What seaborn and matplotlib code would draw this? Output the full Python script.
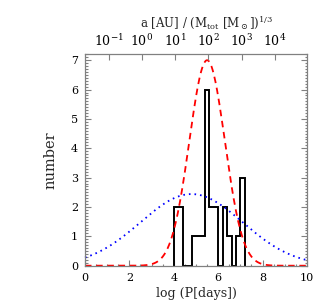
import numpy as np
import pandas as pd
import matplotlib
matplotlib.use("Agg")
import matplotlib.pyplot as plt
import seaborn as sns

# histogram of log P (bin width 0.2)
bin_edges = [4.0, 4.2, 4.4, 4.6, 4.8, 5.0, 5.2, 5.4, 5.6, 5.8, 6.0, 6.2, 6.4, 6.6, 6.8, 7.0, 7.2]
counts = [2, 2, 0, 0, 1, 1, 1, 6, 2, 2, 0, 2, 1, 0, 1, 3]

# gaussian curves drawn over the histogram (amplitude, mean, sigma)
red_gauss = [7.0, 5.5, 0.8]
blue_gauss = [2.44, 4.8, 2.3]

top_ticks = [1e-1, 1e0, 1e1, 1e2, 1e3, 1e4]


def gauss(x, amp, mu, sig):
    return amp * np.exp(-(x - mu) ** 2 / (2 * sig ** 2))


xgrid = np.linspace(0, 10, 401)
curves = pd.DataFrame({
    "logP": np.concatenate([xgrid, xgrid]),
    "number": np.concatenate([gauss(xgrid, *red_gauss), gauss(xgrid, *blue_gauss)]),
    "model": ["narrow"] * len(xgrid) + ["broad"] * len(xgrid),
})
centers = [(a + b) / 2 for a, b in zip(bin_edges[:-1], bin_edges[1:])]
hist_df = pd.DataFrame({"logP": centers, "n": counts})

sns.set_style("ticks")
plt.rcParams["font.family"] = ["DejaVu Serif"]
plt.rcParams["mathtext.fontset"] = "dejavuserif"

grey = "#808080"
fig = plt.figure(figsize=(3.32, 3.07), dpi=100)
ax = fig.add_axes([0.256, 0.1326, 0.6687, 0.6904])

sns.lineplot(data=curves[curves.model == "broad"], x="logP", y="number", ax=ax,
             color="#0000ff", lw=1.3, linestyle=(0, (0.9, 2.2)), clip_on=False)
sns.lineplot(data=curves[curves.model == "narrow"], x="logP", y="number", ax=ax,
             color="#ff0000", lw=1.3, linestyle=(0, (3.6, 2.6)), clip_on=False)
ax.stairs(hist_df["n"], bin_edges, baseline=0, color="black", lw=1.4)

ax.set_xlim(0, 10)
ax.set_ylim(-0.02, 7.2)
ax.set_xticks([0, 2, 4, 6, 8, 10])
ax.set_xticks(np.arange(0, 10.01, 0.5), minor=True)
ax.set_yticks(range(8))
ax.set_yticks(np.arange(0, 7.21, 0.1), minor=True)
ax.set_xlabel("log (P[days])", fontsize=9, labelpad=3)
ax.set_ylabel("number", fontsize=10.5, labelpad=10)
ax.tick_params(which="both", direction="in", colors=grey, labelcolor="black",
               labelsize=8, right=True, top=False, width=0.8)
ax.tick_params(which="major", length=4.5, pad=5)
ax.tick_params(which="minor", length=1.8)
for s in ax.spines.values():
    s.set_color(grey)
    s.set_linewidth(0.9)

# top axis: a / M^(1/3) in AU from Kepler's law
lo = 10 ** (2 / 3 * (0 - np.log10(365.25)))
hi = 10 ** (2 / 3 * (10 - np.log10(365.25)))
ax2 = ax.twiny()
ax2.set_xscale("log")
ax2.set_xlim(lo, hi)
ax2.set_xticks(top_ticks)
ax2.xaxis.set_minor_locator(matplotlib.ticker.NullLocator())
ax2.tick_params(direction="in", colors=grey, labelcolor="black", labelsize=9,
                length=4.5, width=0.8, pad=4)
for s in ax2.spines.values():
    s.set_visible(False)
ax2.set_xlabel(r"a [AU] / (M$_{\rm tot}$ [M$_\odot$])$^{1/3}$", fontsize=8.5)
ax2.xaxis.set_label_coords(0.55, 1.125)

fig.savefig("out.png", dpi=100)
